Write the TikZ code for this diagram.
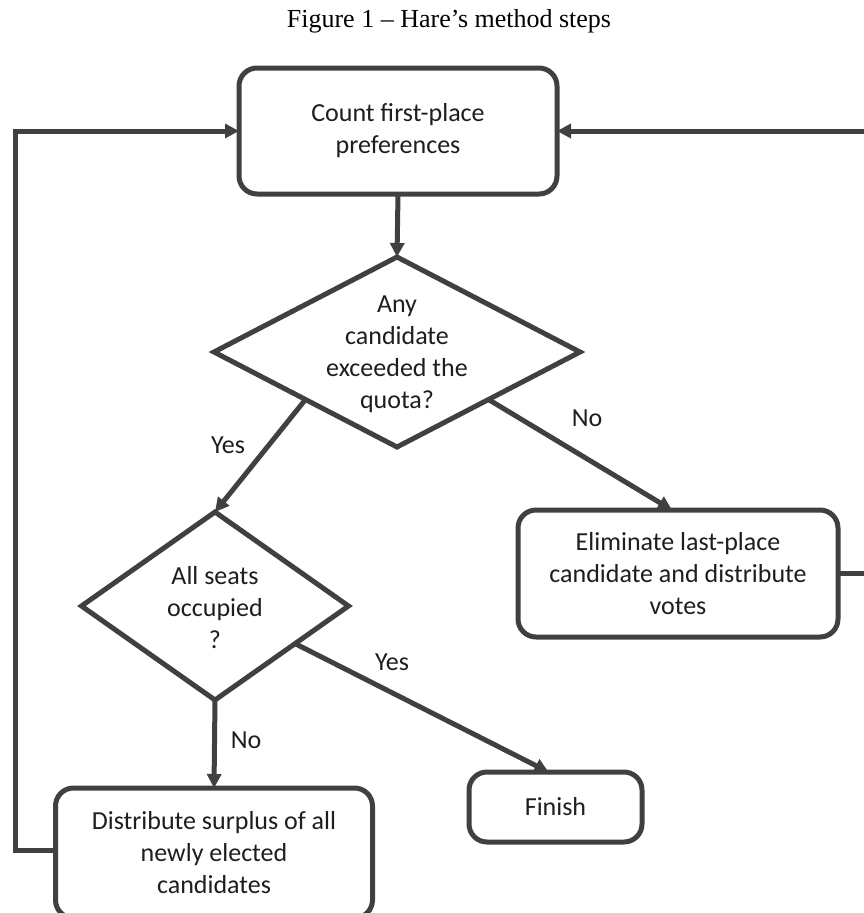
\documentclass[tikz,border=0pt]{standalone}
\usepackage{fontspec}
\setmainfont{Carlito}
\newfontfamily\titlefont{Liberation Serif}
\usetikzlibrary{shapes.geometric,arrows.meta,calc}
\definecolor{ln}{HTML}{404040}
\definecolor{tx}{HTML}{1E1E1E}
\begin{document}
\begin{tikzpicture}[x=1pt,y=-1pt,
  every node/.style={text=tx, font=\fontsize{26}{32}\selectfont},
  stepbox/.style={draw=ln, line width=5pt, rounded corners=18pt, inner sep=0pt, outer sep=0pt, align=center},
  decision/.style={draw=ln, line width=5pt, diamond, inner sep=0pt, outer sep=0pt},
  lbl/.style={align=center, inner sep=0pt},
  arr/.style={draw=ln, line width=5pt, -{Triangle[length=14pt,width=14pt]}}
]
\useasboundingbox (0,0) rectangle (864,913);
\clip (0,0) rectangle (864,913);
\fill[white] (0,0) rectangle (864,913);

\node[font=\titlefont\fontsize{26}{30}\selectfont, text=black] (title) at (449,21) {Figure 1 – Hare’s method steps};

\node[stepbox, minimum width=318pt, minimum height=126pt] (top) at (398,131) {Count first-place\\preferences};

\node[decision, minimum width=366pt, minimum height=190pt] (d1) at (397,352) {};
\node[lbl] (d1t) at (397,354) {Any\\candidate\\exceeded the\\quota?};

\node[stepbox, minimum width=320pt, minimum height=127pt] (elim) at (678,573.5) {Eliminate last-place\\candidate and distribute\\votes};

\node[decision, minimum width=267pt, minimum height=188pt] (d2) at (215,606) {};
\node[lbl] (d2t) at (215,608) {All seats\\occupied\\?};

\node[stepbox, minimum width=173pt, minimum height=70pt] (fin) at (555.5,807) {Finish};

\node[stepbox, minimum width=317pt, minimum height=130pt] (dist) at (214,853) {Distribute surplus of all\\newly elected\\candidates};

\node[lbl] (y1) at (228,445) {Yes};
\node[lbl] (n1) at (587,418) {No};
\node[lbl] (n2) at (246,740) {No};
\node[lbl] (y2) at (392,662) {Yes};

\draw[arr] (top.south) -- (d1.north);
\draw[arr] ($(d1.west)!0.5!(d1.south)$) -- (d2.north);
\draw[arr] ($(d1.east)!0.5!(d1.south)$) -- ($(elim.north)+(-6,0)$);
\draw[arr] (d2.south) -- (dist.north);
\draw[arr] ($(d2.east)!0.4!(d2.south)$) -- ($(fin.north)+(-7,0)$);
\draw[arr] ($(dist.west)+(0,-3)$) -- ++(-40,0) |- (top.west);
\draw[arr] (elim.east) -- ++(40,0) |- (top.east);
\end{tikzpicture}
\end{document}
